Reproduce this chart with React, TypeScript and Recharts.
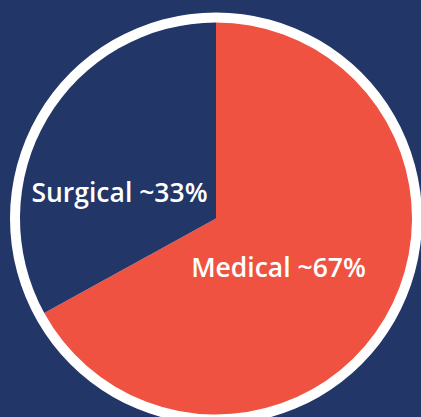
import React from 'react';
import { PieChart, Pie, Cell } from 'recharts';

const categories = ['Medical', 'Surgical'];
const shares = [67, 33];
const labels = ['Medical ~67%', 'Surgical ~33%'];

const colorList = ['#EF5241', '#223668'];
const background = '#223668';

// label centre offsets from the pie centre (x, baseline y)
const labelOffsets = [
	[62.5, 58.5],
	[-96.5, -16.5],
];

const data = categories.map((name, i) => ({ name, value: shares[i], label: labels[i] }));
const ring = [{ name: 'ring', value: 1 }];

const renderLabel = (props: any) => {
	const { cx, cy, index } = props;
	const [dx, dy] = labelOffsets[index];
	return (
		<text
			x={cx + dx}
			y={cy + dy}
			fill='#ffffff'
			textAnchor='middle'
			fontFamily='"Open Sans", sans-serif'
			fontWeight={600}
			fontSize={26.5}
		>
			{data[index].label}
		</text>
	);
};

const App = () => {
	return (
		<div
			style={{
				position: 'fixed',
				left: 0,
				top: 0,
				width: 421,
				height: 417,
				background,
				overflow: 'hidden',
			}}
		>
			<PieChart width={421} height={417} margin={{ top: 0, right: 0, bottom: 0, left: 0 }}>
				<Pie
					data={ring}
					dataKey='value'
					cx={216}
					cy={218.5}
					outerRadius={206}
					fill='#ffffff'
					stroke='none'
					isAnimationActive={false}
				/>
				<Pie
					data={data}
					dataKey='value'
					nameKey='name'
					cx={216}
					cy={218.5}
					outerRadius={196}
					startAngle={90}
					endAngle={-270}
					stroke='none'
					labelLine={false}
					label={renderLabel}
					isAnimationActive={false}
				>
					{data.map((entry, idx) => (
						<Cell key={`cell-${idx}`} fill={colorList[idx % colorList.length]} />
					))}
				</Pie>
			</PieChart>
		</div>
	);
};

export default App;
